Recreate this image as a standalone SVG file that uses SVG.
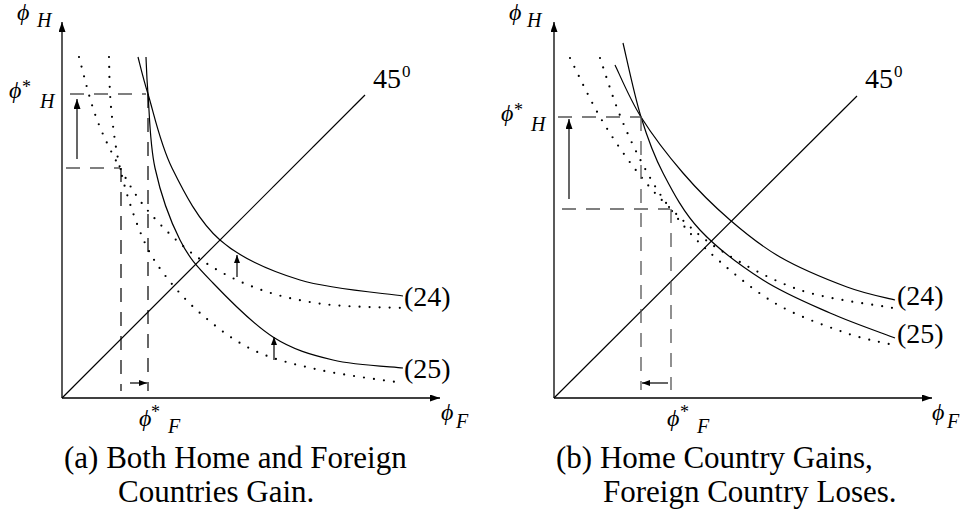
<svg xmlns="http://www.w3.org/2000/svg" width="969" height="514" viewBox="0 0 969 514">
<defs>
<marker id="a" markerUnits="userSpaceOnUse" markerWidth="10" markerHeight="7" refX="10" refY="3.5" orient="auto"><path d="M0,0 L10,3.5 L0,7 z" fill="#000"/></marker>
<marker id="s" markerUnits="userSpaceOnUse" markerWidth="8" markerHeight="6" refX="8" refY="3" orient="auto"><path d="M0,0 L8,3 L0,6 z" fill="#000"/></marker>
</defs>
<rect width="969" height="514" fill="#fff"/>
<g id="a-axes" stroke="#000" stroke-width="1.3" fill="none">
<path d="M62,398 L62,22" marker-end="url(#a)"/>
<path d="M62,398 L440,398" marker-end="url(#a)"/>
<path stroke-width="1.2" d="M62,398 L365,95"/>
</g>
<g id="a-curves" stroke="#000" stroke-width="1.2" fill="none">
<path d="M138,57 C139.7,63.2 142.3,75.5 148,94 C153.7,112.5 160,143.7 172,168 C184,192.3 198.7,221.3 220,240 C241.3,258.7 269.5,270.7 300,280 C330.5,289.3 385.8,293.3 403,296"/>
<path d="M146,57 C146.3,63.2 146.5,75.5 148,94 C149.5,112.5 149.7,143.7 155,168 C160.3,192.3 170.3,220.8 180,240 C189.7,259.2 197.5,266.8 213,283 C228.5,299.2 253,324.2 273,337 C293,349.8 311.3,354.8 333,360 C354.7,365.2 391.3,366.7 403,368"/>
<g stroke-width="2.2" stroke-linecap="round" stroke-dasharray="0 10">
<path d="M79,57 C81.8,67 89.2,98.5 96,117 C102.8,135.5 111.2,152.2 120,168 C128.8,183.8 136.2,197.2 149,212 C161.8,226.8 179.2,244.3 197,257 C214.8,269.7 235,280.2 256,288 C277,295.8 298.5,300.7 323,304 C347.5,307.3 389.7,307.3 403,308"/>
<path d="M109,57 C109.3,65.3 109.2,88.5 111,107 C112.8,125.5 115.3,147.7 120,168 C124.7,188.3 132.2,212 139,229 C145.8,246 150.8,256 161,270 C171.2,284 184.7,299.7 200,313 C215.3,326.3 233,340.5 253,350 C273,359.5 295,364.5 320,370 C345,375.5 389.2,380.8 403,383"/>
</g>
</g>
<g id="a-guides" stroke="#000" stroke-width="1.2" stroke-dasharray="14 10" fill="none">
<path d="M70,94 L146,94"/>
<path d="M148,94 L148,391"/>
<path d="M66,168 L120,168"/>
<path d="M121,168 L121,391"/>
</g>
<g id="a-arrows" stroke="#000" stroke-width="1.2" fill="none">
<path d="M77,159 L77,99" marker-end="url(#a)"/>
<path d="M237,277 L237,255" marker-end="url(#s)"/>
<path d="M274,360 L274,337" marker-end="url(#s)"/>
<path d="M130,383 L147,383" marker-end="url(#s)"/>
</g>
<g id="b-axes" stroke="#000" stroke-width="1.3" fill="none">
<path d="M554,398 L554,22" marker-end="url(#a)"/>
<path d="M554,398 L932,398" marker-end="url(#a)"/>
<path stroke-width="1.2" d="M554,398 L857,96"/>
</g>
<g id="b-curves" stroke="#000" stroke-width="1.2" fill="none">
<path d="M615,65 C619.3,73.7 629.7,99 641,117 C652.3,135 668.2,155.8 683,173 C697.8,190.2 713.8,206 730,220 C746.2,234 760.5,245.8 780,257 C799.5,268.2 827.8,279.8 847,287 C866.2,294.2 887,297.8 895,300"/>
<path d="M623,43 C626,55.3 634.3,95.3 641,117 C647.7,138.7 653.2,154.2 663,173 C672.8,191.8 683.3,212.2 700,230 C716.7,247.8 741.3,266.2 763,280 C784.7,293.8 808,303.3 830,313 C852,322.7 884.2,333.8 895,338"/>
<g stroke-width="2.2" stroke-linecap="round" stroke-dasharray="0 10">
<path d="M570,58 C575,67.8 589.2,98.5 600,117 C610.8,135.5 623.5,154 635,169 C646.5,184 654.8,193.5 669,207 C683.2,220.5 698.2,236.2 720,250 C741.8,263.8 771.2,280.3 800,290 C828.8,299.7 877.5,305 893,308"/>
<path d="M600,58 C603.2,67.2 612,95.5 619,113 C626,130.5 633.7,147.3 642,163 C650.3,178.7 658.2,192.5 669,207 C679.8,221.5 689.7,234.2 707,250 C724.3,265.8 750.3,288.3 773,302 C795.7,315.7 823,324.8 843,332 C863,339.2 884.7,342.8 893,345"/>
</g>
</g>
<g id="b-guides" stroke="#555" stroke-width="1.3" stroke-dasharray="14 10" fill="none">
<path d="M558,117 L641,117"/>
<path d="M641,117 L641,390"/>
<path d="M562,209 L670,209"/>
<path d="M671,209 L671,390"/>
</g>
<g id="b-arrows" stroke="#000" stroke-width="1.2" fill="none">
<path d="M569,199 L569,119" marker-end="url(#a)"/>
<path d="M668,383 L642,383" marker-end="url(#s)"/>
</g>
<text x="64" y="468" font-family="Liberation Serif" font-size="31">(a) Both Home and Foreign</text>
<text x="118" y="502" font-family="Liberation Serif" font-size="31">Countries Gain.</text>
<text x="556" y="468" font-family="Liberation Serif" font-size="31">(b) Home Country Gains,</text>
<text x="603" y="502" font-family="Liberation Serif" font-size="31">Foreign Country Loses.</text>
<text x="373" y="88" font-family="Liberation Serif" font-size="28">45</text>
<text x="402" y="77" font-family="Liberation Serif" font-size="17">0</text>
<text x="865" y="88" font-family="Liberation Serif" font-size="28">45</text>
<text x="894" y="77" font-family="Liberation Serif" font-size="17">0</text>
<text x="404" y="306" font-family="Liberation Serif" font-size="28">(24)</text>
<text x="404" y="378" font-family="Liberation Serif" font-size="28">(25)</text>
<text x="897" y="305" font-family="Liberation Serif" font-size="28">(24)</text>
<text x="897" y="343" font-family="Liberation Serif" font-size="28">(25)</text>
<text x="17" y="20" font-family="Liberation Serif" font-style="italic" font-size="24">ϕ</text>
<text x="37" y="27" font-family="Liberation Serif" font-style="italic" font-size="20">H</text>
<text x="9" y="98" font-family="Liberation Serif" font-style="italic" font-size="24">ϕ</text>
<text x="22" y="93" font-family="Liberation Serif" font-size="18">*</text>
<text x="40" y="108" font-family="Liberation Serif" font-style="italic" font-size="20">H</text>
<text x="139" y="426" font-family="Liberation Serif" font-style="italic" font-size="24">ϕ</text>
<text x="151" y="418" font-family="Liberation Serif" font-size="18">*</text>
<text x="168" y="433" font-family="Liberation Serif" font-style="italic" font-size="20">F</text>
<text x="441" y="420" font-family="Liberation Serif" font-style="italic" font-size="24">ϕ</text>
<text x="456" y="428" font-family="Liberation Serif" font-style="italic" font-size="20">F</text>
<text x="509" y="20" font-family="Liberation Serif" font-style="italic" font-size="24">ϕ</text>
<text x="527" y="27" font-family="Liberation Serif" font-style="italic" font-size="20">H</text>
<text x="501" y="121" font-family="Liberation Serif" font-style="italic" font-size="24">ϕ</text>
<text x="514" y="116" font-family="Liberation Serif" font-size="18">*</text>
<text x="531" y="131" font-family="Liberation Serif" font-style="italic" font-size="20">H</text>
<text x="667" y="426" font-family="Liberation Serif" font-style="italic" font-size="24">ϕ</text>
<text x="680" y="418" font-family="Liberation Serif" font-size="18">*</text>
<text x="697" y="433" font-family="Liberation Serif" font-style="italic" font-size="20">F</text>
<text x="932" y="420" font-family="Liberation Serif" font-style="italic" font-size="24">ϕ</text>
<text x="947" y="428" font-family="Liberation Serif" font-style="italic" font-size="20">F</text>
</svg>
